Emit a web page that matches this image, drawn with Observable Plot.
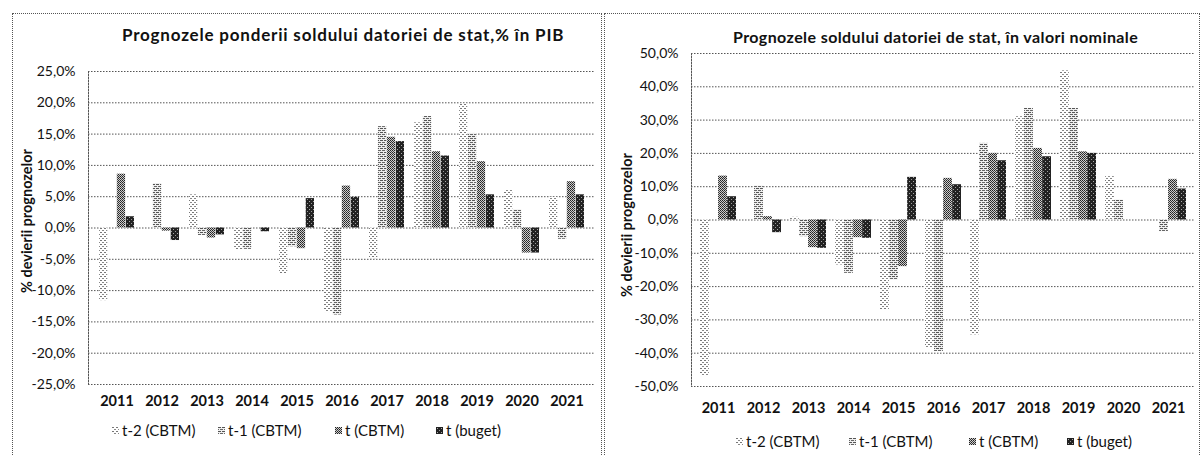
<!DOCTYPE html>
<html>
<head>
<meta charset="utf-8">
<script src="https://cdn.jsdelivr.net/npm/d3@7"></script>
<script src="https://cdn.jsdelivr.net/npm/@observablehq/plot@0.6"></script>
<style>
  body { margin: 0; background: #fff; font-family: Lato, "Open Sans", sans-serif; }
  #wrap { position: relative; width: 1201px; height: 456px; overflow: hidden; background: #fff; }
  .panel { position: absolute; border: 1px dotted #555; box-sizing: border-box; }
  .chart { position: absolute; top: 0; }
  .title { position: absolute; font-weight: bold; color: #111; white-space: nowrap; line-height: 22px; }
  .legend-item { position: absolute; display: flex; align-items: center; font-size: 15px; color: #111; white-space: nowrap; line-height: 18px; }
  .legend-item svg { margin-right: 3px; }
</style>
</head>
<body>
<svg width="0" height="0" style="position:absolute">
  <defs>
    <pattern id="pat0" patternUnits="userSpaceOnUse" width="4" height="4">
      <rect width="4" height="4" fill="#fff"/>
      <rect x="0" y="0" width="2" height="1" fill="#777"/>
      <rect x="2" y="2" width="2" height="1" fill="#888"/>
    </pattern>
    <pattern id="pat1" patternUnits="userSpaceOnUse" width="4" height="4">
      <rect width="4" height="4" fill="#eee"/>
      <rect x="0" y="0" width="3" height="1" fill="#555"/>
      <rect x="2" y="2" width="3" height="1" fill="#666"/>
      <rect x="0" y="2" width="1" height="1" fill="#666"/>
    </pattern>
    <pattern id="pat2" patternUnits="userSpaceOnUse" width="4" height="4">
      <rect width="4" height="4" fill="#ccc"/>
      <rect x="0" y="0" width="1" height="1" fill="#222"/>
      <rect x="2" y="0" width="1" height="1" fill="#222"/>
      <rect x="1" y="1" width="1" height="1" fill="#333"/>
      <rect x="3" y="1" width="1" height="1" fill="#333"/>
      <rect x="0" y="2" width="1" height="1" fill="#222"/>
      <rect x="2" y="2" width="1" height="1" fill="#222"/>
      <rect x="1" y="3" width="1" height="1" fill="#444"/>
      <rect x="3" y="3" width="1" height="1" fill="#444"/>
    </pattern>
    <pattern id="pat3" patternUnits="userSpaceOnUse" width="4" height="4">
      <rect width="4" height="4" fill="#222"/>
      <rect x="1" y="1" width="1" height="1" fill="#aaa"/>
      <rect x="3" y="3" width="1" height="1" fill="#999"/>
    </pattern>
  </defs>
</svg>
<div id="wrap">
  <div class="panel" style="left:12px;top:13px;width:590px;height:460px;"></div>
  <div class="panel" style="left:604px;top:13px;width:596px;height:460px;"></div>
  <div id="leftChart" class="chart" style="left:0px;"></div>
  <div id="rightChart" class="chart" style="left:600px;"></div>
  <div class="title" style="left:122px;top:24px;font-size:17px;letter-spacing:0.8px;">Prognozele ponderii soldului datoriei de stat,% în PIB</div>
  <div class="title" style="left:733px;top:26px;font-size:16px;letter-spacing:0.4px;">Prognozele soldului datoriei de stat, în valori nominale</div>
</div>
<script>
// ---- Data ----
const years = ["2011","2012","2013","2014","2015","2016","2017","2018","2019","2020","2021"];
const seriesNames = ["t-2 (CBTM)", "t-1 (CBTM)", "t (CBTM)", "t (buget)"];

// Left chart: % în PIB deviations
const pibT2 = [-11.6, null, 5.3, -3.5, -7.3, -13.5, -4.9, 16.8, 19.8, 6.1, 4.9];
const pibT1 = [null, 7.1, -1.2, -3.4, -3.0, -13.9, 16.2, 17.8, 15.1, 2.9, -1.8];
const pibTC = [8.6, -0.5, -1.6, 0, -3.3, 6.7, 14.5, 12.2, 10.6, -4.0, 7.4];
const pibTB = [1.8, -2.0, -1.1, -0.6, 4.7, 4.9, 13.8, 11.5, 5.3, -4.0, 5.3];
const pibTicks = [-25, -20, -15, -10, -5, 0, 5, 10, 15, 20, 25];

// Right chart: nominal values deviations
const nomT2 = [-47.0, null, 0.8, -13.5, -27.0, -38.5, -34.5, 31.0, 44.8, 13.0, null];
const nomT1 = [null, 10.2, -5.0, -16.0, -18.0, -39.5, 23.0, 33.5, 33.5, 6.0, -3.5];
const nomTC = [13.2, 1.0, -8.3, -5.3, -14.0, 12.5, 20.0, 21.5, 20.5, null, 12.2];
const nomTB = [7.0, -3.8, -8.5, -5.5, 12.8, 10.6, 17.8, 19.0, 20.0, null, 9.3];
const nomTicks = [-50, -40, -30, -20, -10, 0, 10, 20, 30, 40, 50];

const yLabel = "% devierii prognozelor";
const patterns = ["url(#pat0)", "url(#pat1)", "url(#pat2)", "url(#pat3)"];

const fmt = d => d.toFixed(1).replace(".", ",") + "%";

function build(cfg) {
  const {series, ticks, width, height, ml, mr, mt, mb, pi, po, xPad, yPad, labelDx, labelDy, xFont, yFont} = cfg;
  const bw = d3.scaleBand().domain(years).range([ml, width - mr]).paddingInner(pi).paddingOuter(po).bandwidth();
  const w = bw / 4;
  const marks = [
    Plot.ruleY(ticks, {stroke: "#555", strokeWidth: 1, strokeDasharray: "1.5,1.5"}),
    Plot.frame({anchor: "left", stroke: "#555", strokeDasharray: "1.5,1.5"}),
  ];
  series.forEach((vals, i) => {
    const rows = years.map((y, k) => ({year: y, value: vals[k], s: seriesNames[i]})).filter(r => r.value != null);
    marks.push(Plot.barY(rows, {
      x: "year", y: "value", fill: patterns[i],
      insetLeft: i * w, insetRight: (3 - i) * w
    }));
  });
  marks.push(
    Plot.axisX({tickSize: 0, tickPadding: xPad, fontWeight: "bold", fontSize: xFont, label: null}),
    Plot.axisY({ticks, tickFormat: fmt, tickSize: 0, tickPadding: yPad, fontSize: yFont, label: null}),
    Plot.text([yLabel], {frameAnchor: "left", textAnchor: "middle", text: d => d, rotate: -90, dx: labelDx, dy: labelDy, fontWeight: "bold", fontSize: 14.5, fill: "#111"})
  );
  return Plot.plot({
    width, height,
    marginLeft: ml, marginRight: mr, marginTop: mt, marginBottom: mb,
    style: {fontFamily: "Lato, 'Open Sans', sans-serif", fontSize: "12px", color: "#111", background: "transparent", overflow: "visible"},
    x: {type: "band", domain: years, paddingInner: pi, paddingOuter: po, axis: null},
    y: {domain: [ticks[0], ticks[ticks.length - 1]], axis: null},
    marks
  });
}

document.getElementById("leftChart").appendChild(build({
  series: [pibT2, pibT1, pibTC, pibTB], ticks: pibTicks,
  width: 600, height: 420, ml: 88, mr: 5, mt: 71, mb: 36,
  pi: 0.22, po: 0.16, xPad: 11, yPad: 13, labelDx: -61, labelDy: -7, xFont: 14.5, yFont: 14
}));
document.getElementById("rightChart").appendChild(build({
  series: [nomT2, nomT1, nomTC, nomTB], ticks: nomTicks,
  width: 601, height: 430, ml: 91, mr: 6, mt: 53, mb: 44,
  pi: 0.2, po: 0.17, xPad: 16, yPad: 13, labelDx: -64, labelDy: 5, xFont: 14.5, yFont: 14
}));

// legend layout (page positions of each item's swatch)
function legend(lefts, top) {
  const wrap = document.getElementById("wrap");
  seriesNames.forEach((name, i) => {
    const item = document.createElement("div");
    item.className = "legend-item";
    item.style.left = lefts[i] + "px";
    item.style.top = top + "px";
    item.innerHTML = `<svg width="7" height="7"><rect width="7" height="7" fill="${patterns[i]}"/></svg><span>${name}</span>`;
    wrap.appendChild(item);
  });
}
legend([112, 218, 335, 436], 421);
legend([736, 849, 969, 1067], 432);
</script>
</body>
</html>
